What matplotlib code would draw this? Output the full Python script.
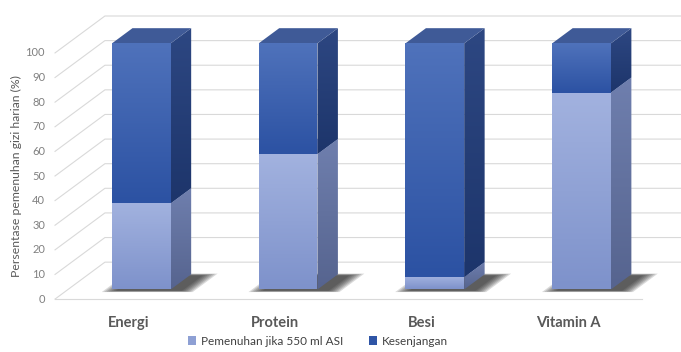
import numpy as np
import matplotlib
matplotlib.use("Agg")
import matplotlib.pyplot as plt
from matplotlib.patches import Polygon, Patch
from matplotlib.colors import LinearSegmentedColormap

categories = ["Energi", "Protein", "Besi", "Vitamin A"]
pemenuhan = [35, 55, 5, 80]
kesenjangan = [100 - v for v in pemenuhan]
yticks = list(range(0, 101, 10))
series_names = ["Pemenuhan jika 550 ml ASI", "Kesenjangan"]

# pseudo-3D: depth z in [0, 1] shifts points right and up
DX, DY = 0.34, 15.0
Z0, Z1 = 0.26, 0.67
BAR_W = 0.4


def proj(x, y, z):
    return (x + z * DX, y + z * DY)


# colours per series: front top/bottom, side top/bottom, top face
light = dict(front=("#a2b2df", "#7e92cb"), side=("#6f7fae", "#56648f"), top="#8a9bd0")
dark = dict(front=("#4f72bb", "#2c52a3"), side=("#2d4782", "#1d356b"), top="#3f5a97")

plt.rcParams["font.family"] = ["Lato", "DejaVu Sans"]
fig = plt.figure(figsize=(6.81, 3.52), dpi=100)
ax = fig.add_axes([0, 0, 1, 1])
ax.axis("off")


def face(pts, c_top, c_bot, z):
    poly = Polygon(pts, closed=True, facecolor="none", edgecolor="none")
    ax.add_patch(poly)
    xs, ys = zip(*pts)
    grad = np.linspace(0, 1, 64)[:, None]
    cmap = LinearSegmentedColormap.from_list("g", [c_bot, c_top])
    im = ax.imshow(grad, cmap=cmap, origin="lower", aspect="auto",
                   extent=(min(xs), max(xs), min(ys), max(ys)),
                   interpolation="bilinear", zorder=z)
    im.set_clip_path(poly)


n = len(categories)
grid = "#d9d9d9"
for t in yticks:
    p0 = proj(0, t, 0)
    p1 = proj(0, t, 1)
    p2 = proj(n + 0.5, t, 1)
    ax.plot([p0[0], p1[0], p2[0]], [p0[1], p1[1], p2[1]], color=grid, lw=0.8, zorder=1)
    ax.text(-0.068, t, str(t), ha="right", va="center", fontsize=8, color="#808080")
ax.plot([0, n], [0, 0], color=grid, lw=0.8, zorder=1)

for i, cat in enumerate(categories):
    xl = i + 0.5 - BAR_W / 2
    xr = i + 0.5 + BAR_W / 2
    # soft shadow on the floor
    for k in range(7):
        e = 0.014 * k
        pts = [proj(xl - 0.06 + e, -0.6, Z0 - 0.03 + e * 0.4),
               proj(xr + 0.16 - e, -0.6, Z0 - 0.03 + e * 0.4),
               proj(xr + 0.16 - e, -0.6, Z1 + 0.06 - e * 0.6),
               proj(xl - 0.06 + e, -0.6, Z1 + 0.06 - e * 0.6)]
        ax.add_patch(Polygon(pts, closed=True, facecolor="#1e1e1e", edgecolor="none",
                             alpha=0.16, zorder=2))
    bottom = 0
    for val, st in zip([pemenuhan[i], kesenjangan[i]], [light, dark]):
        y0, y1 = bottom, bottom + val
        side = [proj(xr, y0, Z0), proj(xr, y0, Z1), proj(xr, y1, Z1), proj(xr, y1, Z0)]
        face(side, st["side"][0], st["side"][1], 3)
        top = [proj(xl, y1, Z0), proj(xr, y1, Z0), proj(xr, y1, Z1), proj(xl, y1, Z1)]
        ax.add_patch(Polygon(top, closed=True, facecolor=st["top"], edgecolor="none", zorder=3))
        front = [proj(xl, y0, Z0), proj(xr, y0, Z0), proj(xr, y1, Z0), proj(xl, y1, Z0)]
        face(front, st["front"][0], st["front"][1], 4)
        bottom = y1
    ax.text(i + 0.5, -9.8, cat, ha="center", va="center", fontsize=10.5,
            fontweight="bold", color="#595959")

ax.text(-0.26, 50, "Persentase pemenuhan gizi harian (%)", rotation=90,
        ha="center", va="center", fontsize=8.8, color="#595959")

handles = [Patch(facecolor="#8ea0d4", label=series_names[0]),
           Patch(facecolor="#2f55a6", label=series_names[1])]
ax.legend(handles=handles, loc="lower center", bbox_to_anchor=(0.467, -0.015), ncol=2,
          frameon=False, fontsize=8.5, handlelength=0.7, handleheight=0.7,
          handletextpad=0.4, columnspacing=2.2, labelcolor="#404040")

ax.set_xlim(-0.375, 4.266)
ax.set_ylim(-21.5, 121.5)
fig.savefig("out.png", dpi=100)
